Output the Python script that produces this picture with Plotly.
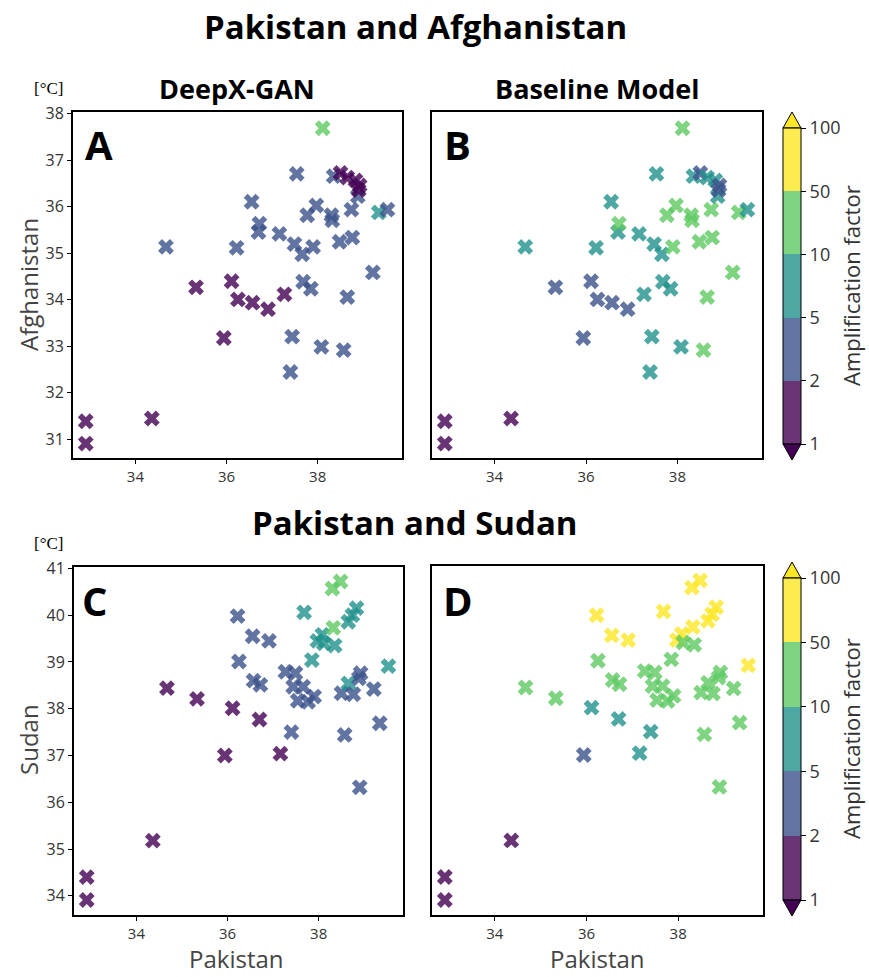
import numpy as np
import plotly.graph_objects as go

W, H = 869, 977

# ---------------- data ----------------
pakistan = [32.91, 32.91, 34.36, 34.67, 35.33, 35.94, 36.11, 36.22, 36.25, 36.55,
            36.57, 36.70, 36.72, 36.91, 37.16, 37.27, 37.40, 37.44, 37.49, 37.54,
            37.66, 37.68, 37.77, 37.85, 37.90, 37.97, 38.08, 38.11, 38.30, 38.32,
            38.35, 38.48, 38.50, 38.57, 38.65, 38.65, 38.74, 38.76, 38.83, 38.88,
            38.90, 38.92, 39.21, 39.34, 39.53]

afghanistan = [31.39, 30.91, 31.45, 35.14, 34.27, 33.18, 34.40, 35.12, 34.01, 36.11,
               33.94, 35.46, 35.64, 33.80, 35.42, 34.12, 32.45, 33.21, 35.20, 36.71,
               34.98, 34.39, 35.82, 34.24, 35.14, 36.03, 32.99, 37.69, 35.82, 35.71,
               36.66, 35.25, 36.73, 32.92, 36.63, 34.06, 35.94, 35.34, 36.57, 36.23,
               36.36, 36.46, 34.59, 35.88, 35.94]

sudan = [34.40, 33.91, 35.18, 38.44, 38.21, 37.00, 38.01, 39.98, 39.01, 39.55,
         38.60, 37.77, 38.51, 39.45, 37.04, 38.79, 37.50, 38.47, 38.76, 38.17,
         38.47, 40.06, 38.15, 39.04, 38.26, 39.45, 39.58, 39.40, 40.57, 39.73,
         39.35, 40.72, 38.33, 37.44, 38.54, 39.86, 40.00, 38.31, 40.15, 38.65,
         36.32, 38.76, 38.42, 37.69, 38.91]

# amplification factors (estimated from colour classes)
amp_deepx_afg = [1.5, 1.5, 1.5, 3, 1.5, 1.5, 1.5, 3, 1.5, 3,
                 1.5, 3, 3, 1.5, 3, 1.5, 3, 3, 3, 3,
                 3, 3, 3, 3, 3, 3, 3, 20, 3, 3,
                 3, 3, 1.5, 3, 1.5, 3, 3, 3, 1.5, 3,
                 1.5, 1.5, 3, 7, 3]
amp_base_afg = [1.5, 1.5, 1.5, 7, 3, 3, 3, 7, 3, 7,
                3, 7, 20, 3, 7, 7, 7, 7, 7, 7,
                7, 7, 20, 7, 20, 20, 7, 20, 20, 20,
                7, 20, 3, 20, 7, 20, 20, 20, 7, 7,
                3, 3, 20, 20, 7]
amp_deepx_sud = [1.5, 1.5, 1.5, 1.5, 1.5, 1.5, 1.5, 3, 3, 3,
                 3, 1.5, 3, 3, 1.5, 3, 3, 3, 3, 3,
                 3, 7, 3, 7, 3, 7, 7, 7, 20, 20,
                 7, 20, 3, 3, 7, 7, 7, 3, 7, 3,
                 3, 3, 3, 3, 7]
amp_base_sud = [1.5, 1.5, 1.5, 20, 20, 3, 7, 70, 20, 70,
                20, 7, 20, 70, 7, 20, 7, 20, 20, 20,
                20, 70, 20, 20, 20, 70, 70, 20, 70, 70,
                20, 70, 20, 20, 20, 70, 70, 20, 70, 20,
                20, 20, 20, 20, 70]

class_bounds = [1, 2, 5, 10, 50, 100]
class_labels = ["1", "2", "5", "10", "50", "100"]
class_colors = ["rgba(68,1,84,0.8)", "rgba(59,82,139,0.8)", "rgba(33,145,140,0.8)",
                "rgba(94,201,98,0.8)", "rgba(253,231,37,0.8)"]

x_ticks = [34, 36, 38]
afg_ticks = [31, 32, 33, 34, 35, 36, 37, 38]
sud_ticks = [34, 35, 36, 37, 38, 39, 40, 41]

# ---------------- helpers ----------------
def px(x):
    return x / W

def py(y):
    return 1 - y / H

nb = len(class_bounds) - 1
colorscale = []
for i, c in enumerate(class_colors):
    colorscale.append([i / nb, c])
    colorscale.append([(i + 1) / nb, c])

def class_value(amps):
    idx = np.searchsorted(class_bounds, np.asarray(amps, float), side="right") - 1
    return np.clip(idx, 0, nb - 1) + 0.5

FONT = "Open Sans"
fig = go.Figure()

panels = [
    ("x", "y", afghanistan, amp_deepx_afg, None),
    ("x2", "y2", afghanistan, amp_base_afg, (128, 444)),
    ("x3", "y3", sudan, amp_deepx_sud, None),
    ("x4", "y4", sudan, amp_base_sud, (578, 900)),
]

for xa, ya, yvals, amps, cb in panels:
    marker = dict(symbol="x", size=14, color=class_value(amps), colorscale=colorscale,
                  cmin=0, cmax=nb, line=dict(width=0))
    if cb is not None:
        top, bot = cb
        marker["showscale"] = True
        marker["colorbar"] = dict(
            x=px(783), xanchor="left", xpad=0, ypad=0,
            y=py((top + bot) / 2), yanchor="middle",
            len=(bot - top) / H, lenmode="fraction",
            thickness=18, thicknessmode="pixels",
            outlinewidth=1, outlinecolor="black",
            tickmode="array", tickvals=list(range(nb + 1)), ticktext=class_labels,
            ticks="outside", ticklen=5, tickcolor="black",
            tickfont=dict(family=FONT, size=18, color="#333"),
        )
    else:
        marker["showscale"] = False
    fig.add_trace(go.Scatter(x=pakistan, y=yvals, mode="markers", marker=marker,
                             xaxis=xa, yaxis=ya, showlegend=False, hoverinfo="x+y"))

xr = [32.63, 39.85]
afg_r = [30.6, 38.04]
sud_r = [33.59, 41.03]

def xaxis(dom_px, anchor):
    return dict(domain=[px(dom_px[0]), px(dom_px[1])], range=xr, anchor=anchor,
                tickvals=x_ticks, ticks="outside", ticklen=4, tickcolor="black",
                showline=True, linecolor="black", linewidth=2, mirror=True,
                showgrid=False, zeroline=False,
                tickfont=dict(family=FONT, size=15, color="#333"))

def yaxis(dom_px, rng, ticks, anchor, show_labels=True):
    return dict(domain=[py(dom_px[1]), py(dom_px[0])], range=rng, anchor=anchor,
                tickvals=ticks, ticks="outside" if show_labels else "", ticklen=4,
                tickcolor="black", showticklabels=show_labels,
                showline=True, linecolor="black", linewidth=2, mirror=True,
                showgrid=False, zeroline=False,
                tickfont=dict(family=FONT, size=16, color="#333"))

fig.update_layout(
    width=W, height=H, margin=dict(l=0, r=0, t=0, b=0, pad=0, autoexpand=False),
    paper_bgcolor="white", plot_bgcolor="white",
    xaxis=xaxis((73, 402), "y"),
    yaxis=yaxis((112, 458), afg_r, afg_ticks, "x"),
    xaxis2=xaxis((432, 762), "y2"),
    yaxis2=yaxis((112, 458), afg_r, afg_ticks, "x2", show_labels=False),
    xaxis3=xaxis((74, 403), "y3"),
    yaxis3=yaxis((567, 915), sud_r, sud_ticks, "x3"),
    xaxis4=xaxis((432, 763), "y4"),
    yaxis4=yaxis((566, 915), sud_r, sud_ticks, "x4", show_labels=False),
)

def ann(text, x, y, size, bold=False, color="black", angle=0, family=FONT):
    t = f"<b>{text}</b>" if bold else text
    fig.add_annotation(text=t, x=px(x), y=py(y), xref="paper", yref="paper",
                       xanchor="center", yanchor="middle", showarrow=False,
                       textangle=angle, font=dict(family=family, size=size, color=color))

ann("Pakistan and Afghanistan", 415, 27, 33, bold=True)
ann("DeepX-GAN", 237, 88, 27, bold=True)
ann("Baseline Model", 597, 88, 27, bold=True)
ann("Pakistan and Sudan", 415, 522, 33, bold=True)
ann("[°C]", 48, 88, 17, family="Liberation Serif")
ann("[°C]", 48, 543, 17, family="Liberation Serif")
ann("A", 99, 145, 40, bold=True)
ann("B", 457, 145, 40, bold=True)
ann("C", 95, 600, 40, bold=True)
ann("D", 458, 600, 40, bold=True)
ann("Afghanistan", 28, 285, 24, color="#444", angle=-90)
ann("Sudan", 28, 740, 24, color="#444", angle=-90)
ann("Pakistan", 237, 958, 24, color="#444")
ann("Pakistan", 597, 958, 24, color="#444")
ann("Amplification factor", 851, 286, 22, color="#333", angle=-90)
ann("Amplification factor", 851, 739, 22, color="#333", angle=-90)

# colorbar extension triangles
def tri(xl, xr_, ybase, ytip, fill):
    xm = (xl + xr_) / 2
    path = f"M {px(xl)},{py(ybase)} L {px(xr_)},{py(ybase)} L {px(xm)},{py(ytip)} Z"
    fig.add_shape(type="path", path=path, xref="paper", yref="paper",
                  fillcolor=fill, line=dict(color="black", width=1))

for top, bot in [(128, 444), (578, 900)]:
    tri(783, 801, top, top - 16, "rgb(253,231,37)")
    tri(783, 801, bot, bot + 16, "rgb(68,1,84)")

fig.write_html(
    "out.html",
    config={"displayModeBar": False},
    post_script="document.body.style.margin='0';document.body.style.overflow='hidden';",
)
